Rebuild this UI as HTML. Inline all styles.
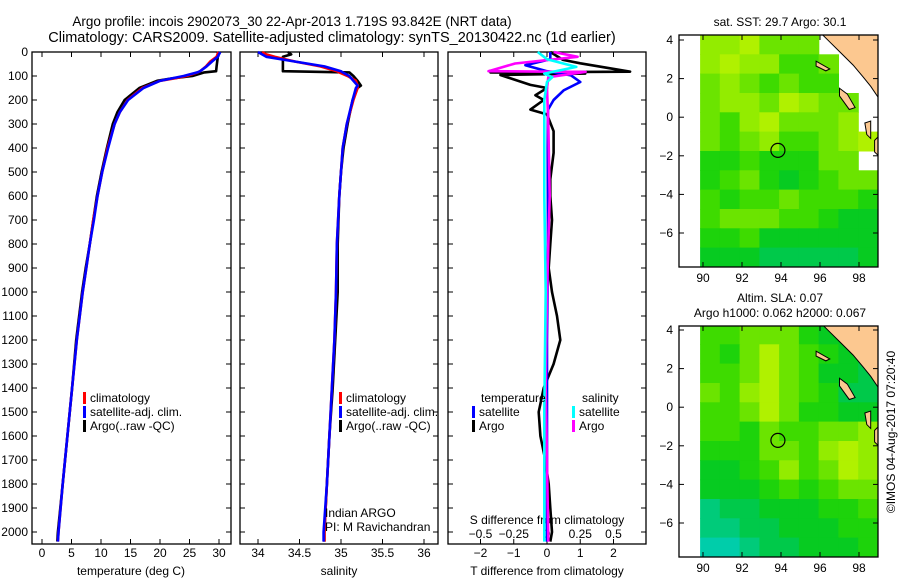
<!DOCTYPE html>
<html><head><meta charset="utf-8"><style>
html,body{margin:0;padding:0;background:#fff;}
svg{display:block;font-family:"Liberation Sans",sans-serif;}
text{fill:#000;}
</style></head><body>
<svg id="fig" width="900" height="580" xmlns="http://www.w3.org/2000/svg">
<text x="292" y="26" font-size="13.5" text-anchor="middle">Argo profile: incois 2902073_30 22-Apr-2013 1.719S 93.842E (NRT data)</text>
<text x="332" y="42" font-size="14.5" text-anchor="middle">Climatology: CARS2009. Satellite-adjusted climatology: synTS_20130422.nc (1d earlier)</text>
<g id="g"></g>
</svg>
<script>
// ---------- profile data ----------
const depthT=[0,20,40,60,80,85,100,110,120,150,200,250,300,400,500,600,700,800,900,1000,1200,1400,1600,1800,2000,2040];
const tempArgo=[29.8,29.8,29.7,29.6,29.5,27.5,25.5,22,19.5,16.5,14,12.8,12,11,10.1,9.3,8.7,8.1,7.4,6.8,5.8,5.1,4.3,3.5,2.7,2.6];
const tempClim=[29.9,29.6,28.5,27.8,26.8,26.4,24.5,22.5,20,17,14.5,13.2,12.3,11.1,10.2,9.4,8.7,8.1,7.5,6.9,5.9,5.1,4.3,3.5,2.8,2.7];
const tempSat=[30.2,29.8,28.8,27.9,26.8,26.3,24,22,20,17.2,14.6,13.2,12.3,11.2,10.2,9.4,8.8,8.1,7.5,6.9,5.9,5.1,4.3,3.5,2.8,2.7];
const depthS=[0,10,20,40,60,80,85,100,120,140,150,200,300,400,500,600,800,1000,1200,1400,1600,1800,2000,2040];
const salArgo=[34.36,34.4,34.3,34.3,34.3,34.3,35.1,35.15,35.2,35.24,35.2,35.14,35.08,35.03,35.0,34.98,34.96,34.96,34.93,34.9,34.86,34.83,34.8,34.8];
const salClim=[34.05,34.1,34.2,34.45,34.75,34.95,34.98,35.08,35.18,35.2,35.2,35.15,35.07,35.02,35.0,34.98,34.95,34.94,34.92,34.89,34.86,34.83,34.8,34.8];
const salSat=[34.0,34.05,34.1,34.45,34.8,35.0,35.02,35.1,35.15,35.2,35.18,35.14,35.07,35.02,35.0,34.98,34.95,34.94,34.92,34.89,34.86,34.83,34.79,34.79];
// ---------- difference data ----------
const depthDTA=[0,33,47,82,85,90,96,137,150,180,200,240,260,330,420,530,600,700,800,900,1000,1100,1200,1300,1400,1500,1600,1700,1800,1900,2000,2040];
const diffTArgo=[0.1,0.48,1.0,2.5,-1.7,1.15,-1.4,-0.5,0,-0.35,-0.1,-0.5,0,0.2,0.2,0.1,0.1,0.15,0.1,0.05,0.15,0.3,0.4,0.2,-0.1,-0.25,-0.2,-0.05,0.05,0.1,0.15,0.1];
const depthDTS=[0,30,55,80,97,125,160,200,240,400,800,1200,1600,2040];
const diffTSat=[0.1,0.1,-0.65,0,0.72,1.0,0.5,0.2,0.03,0.02,0.03,0.0,0.0,0.0];
const depthDSA=[0,20,48,80,83,105,150,300,600,1000,1400,1700,2040];
const diffSArgo=[0.05,0.23,-0.24,-0.44,0.29,0.01,0.0,0.01,0.02,0.0,-0.01,0.0,0.01];
const depthDSS=[0,30,62,90,105,125,200,600,1000,1500,2040];
const diffSSat=[-0.07,0,0.22,-0.02,0.04,0.0,-0.02,-0.02,-0.01,-0.02,-0.02];
// ---------- map data (rows lat 4 -> -7, cols lon 90 -> 98; -1 = no data) ----------
const sstGrid=[
[7,7,8,6,6,6,-1,-1,-1],
[7,8,7,7,5,5,6,-1,-1],
[6,7,6,5,6,5,5,-1,-1],
[6,7,7,6,8,7,6,6,-1],
[6,5,7,8,6,6,6,7,-1],
[6,5,6,7,5,5,6,7,8],
[4,4,5,4,4,4,6,6,-1],
[4,5,6,4,3,4,5,6,6],
[5,4,5,5,6,5,5,5,4],
[5,6,6,6,5,5,4,3,3],
[4,4,5,3,3,3,3,3,3],
[3,3,3,2,2,2,2,2,3]];
const slaGrid=[
[5,5,6,6,6,4,3,3,3],
[5,4,6,8,6,5,4,3,2],
[5,5,6,8,6,5,3,3,2],
[6,5,7,8,6,5,4,2,2],
[5,5,6,8,6,4,4,3,3],
[5,5,4,6,5,5,6,6,7],
[4,4,4,6,6,5,7,8,7],
[3,3,4,5,7,5,6,8,7],
[3,3,3,4,5,4,5,6,6],
[1,2,2,3,3,3,4,4,5],
[1,1,2,2,3,3,3,4,4],
[0,0,1,2,2,3,3,3,4]];
const depthTicks=[0,100,200,300,400,500,600,700,800,900,1000,1100,1200,1300,1400,1500,1600,1700,1800,1900,2000];
const tempTicks=[0,5,10,15,20,25,30];
const salTicks=[34,34.5,35,35.5,36];
const dtTicks=[-2,-1,0,1,2];
const dsTicks=[-0.5,-0.25,0,0.25,0.5];
const dsLabels=['\u22120.5','\u22120.25','0','0.25','0.5'];
const lonTicks=[90,92,94,96,98];
const latTicks=[4,2,0,-2,-4,-6];
const argoLon=93.842, argoLat=-1.719;

// ---------- axis functions ----------
const yD=d=>52+d*0.24;
const xT=v=>42+v*5.9;
const xS=v=>258+(v-34)*83;
const xDT=v=>547+v*33.25;
const xDS=v=>547+v*133;
const lonX=l=>703+(l-90)*19.5;
const latY1=l=>40+(4-l)*19.3;
const latY2=l=>330+(4-l)*19.3;

const NS='http://www.w3.org/2000/svg';
const G=document.getElementById('g');
function mk(tag,attrs,parent){const e=document.createElementNS(NS,tag);for(const k in attrs)e.setAttribute(k,attrs[k]);(parent||G).appendChild(e);return e;}
function txt(s,x,y,anchor,size,parent){const e=mk('text',{x:x,y:y,'text-anchor':anchor||'start','font-size':size||12},parent);e.textContent=s;return e;}

const panels=[[32,231],[240,438],[448,646]];
const pTop=52,pBot=544;
panels.forEach((p,i)=>{
  const r=mk('rect',{x:p[0],y:pTop,width:p[1]-p[0],height:pBot-pTop,fill:'none',stroke:'#000','stroke-width':1.3});
  
  
  depthTicks.forEach(d=>{
    mk('line',{x1:p[0],x2:p[0]+5,y1:yD(d),y2:yD(d),stroke:'#000'});
    mk('line',{x1:p[1]-5,x2:p[1],y1:yD(d),y2:yD(d),stroke:'#000'});
  });
});
depthTicks.forEach(d=>{
  const e=txt(String(d),28,yD(d)+4,'end',12);
  
  
});
tempTicks.forEach(v=>{
  mk('line',{x1:xT(v),x2:xT(v),y1:pBot,y2:pBot-5,stroke:'#000'});
  mk('line',{x1:xT(v),x2:xT(v),y1:pTop,y2:pTop+5,stroke:'#000'});
  const e=txt(String(v),xT(v),557,'middle',12);
  
  
});
salTicks.forEach(v=>{
  mk('line',{x1:xS(v),x2:xS(v),y1:pBot,y2:pBot-5,stroke:'#000'});
  mk('line',{x1:xS(v),x2:xS(v),y1:pTop,y2:pTop+5,stroke:'#000'});
  const e=txt(String(v),xS(v),557,'middle',12);
  
  
});
dtTicks.forEach(v=>{
  mk('line',{x1:xDT(v),x2:xDT(v),y1:pBot,y2:pBot-5,stroke:'#000'});
  mk('line',{x1:xDT(v),x2:xDT(v),y1:pTop,y2:pTop+5,stroke:'#000'});
  const e=txt(String(v).replace('-','\u2212'),xDT(v),557,'middle',12);
  
  
});
dsTicks.forEach((v,i)=>{
  const e=txt(dsLabels[i],xDS(v),538,'middle',12);
  
  
});
let lab;
lab=txt('temperature (deg C)',131,575,'middle',12);
lab=txt('salinity',339,575,'middle',12);
lab=txt('T difference from climatology',547,575,'middle',12);
lab=txt('S difference from climatology',547,524,'middle',12);

function line(ds,vs,fx,color,name){
  const pts=ds.map((d,i)=>fx(vs[i]).toFixed(1)+','+yD(d).toFixed(1)).join(' ');
  const p=mk('polyline',{points:pts,fill:'none',stroke:color,'stroke-width':2.6,'stroke-linejoin':'round'});
  
  
}
line(depthT,tempArgo,xT,'#000','temp-argo-line');
line(depthT,tempClim,xT,'#f00','temp-climatology-line');
line(depthT,tempSat,xT,'#00f','temp-satellite-line');
line(depthS,salArgo,xS,'#000','salinity-argo-line');
line(depthS,salClim,xS,'#f00','salinity-climatology-line');
line(depthS,salSat,xS,'#00f','salinity-satellite-line');
line(depthDTA,diffTArgo,xDT,'#000','t-diff-argo-line');
line(depthDTS,diffTSat,xDT,'#00f','t-diff-satellite-line');
line(depthDSA,diffSArgo,xDS,'#f0f','s-diff-argo-line');
line(depthDSS,diffSSat,xDS,'#0ff','s-diff-satellite-line');

function legItem(x,y,color,label,name){
  mk('rect',{x:x,y:y-10,width:3,height:12,fill:color});
  const e=txt(label,x+7,y,'start',12);
  
  
}
legItem(83,402,'#f00','climatology','legend-climatology');
legItem(83,416,'#00f','satellite-adj. clim.','legend-satellite');
legItem(83,430,'#000','Argo(..raw -QC)','legend-argo');
legItem(339,402,'#f00','climatology','legend-climatology-2');
legItem(339,416,'#00f','satellite-adj. clim.','legend-satellite-2');
legItem(339,430,'#000','Argo(..raw -QC)','legend-argo-2');
lab=txt('temperature',481,402,'start',12);
lab=txt('salinity',582,402,'start',12);
legItem(472,416,'#00f','satellite','legend-t-satellite');
legItem(472,430,'#000','Argo','legend-t-argo');
legItem(572,416,'#0ff','satellite','legend-s-satellite');
legItem(572,430,'#f0f','Argo','legend-s-argo');
lab=txt('Indian ARGO',325,517,'start',12);
lab=txt('PI: M Ravichandran',325,531,'start',12);

// ---------- maps ----------
function col(d){
  const v=d/9;
  const stops=[[0,[0,205,170]],[0.3,[0,200,40]],[0.5,[40,215,0]],[0.75,[140,235,0]],[1,[205,245,0]]];
  for(let i=1;i<stops.length;i++){if(v<=stops[i][0]){const a=stops[i-1],b=stops[i];const f=(v-a[0])/(b[0]-a[0]);
    return 'rgb('+a[1].map((c,k)=>Math.round(c+(b[1][k]-c)*f)).join(',')+')';}}
  return 'rgb(205,245,0)';
}
function drawMap(grid,latY,yTop,yBot,name){
  const g=mk('g',{});
  
  
  const cid='clip'+name;
  const cp=mk('clipPath',{id:cid},g);mk('rect',{x:679,y:yTop,width:199,height:yBot-yTop},cp);
  const inner=mk('g',{'clip-path':'url(#'+cid+')'},g);
  const lon0=89.85,dl=(98.97-89.85)/9,lat0=4.26,dla=(4.26+7.76)/12;
  grid.forEach((row,r)=>row.forEach((d,c)=>{
    if(d<0)return;
    const x1=lonX(lon0+c*dl),x2=lonX(lon0+(c+1)*dl),y1=latY(lat0-r*dla),y2=latY(lat0-(r+1)*dla);
    const cell=mk('rect',{x:x1.toFixed(1),y:y1.toFixed(1),width:(x2-x1+0.6).toFixed(1),height:(y2-y1+0.6).toFixed(1),fill:col(d)},inner);
    
    
  }));
  const land=[[96.1,4.3],[96.5,3.9],[97.1,3.3],[97.7,2.7],[98.2,2.1],[98.6,1.6],[99,1.0],[99,4.3]];
  const lp=mk('polygon',{points:land.map(p=>lonX(p[0])+','+latY(p[1])).join(' '),fill:'#fcc890',stroke:'#000','stroke-width':1},inner);
  
  const isl=[[[95.8,2.9],[96.5,2.5],[96.3,2.4],[95.8,2.65]],[[97.0,1.5],[97.4,1.2],[97.8,0.5],[97.5,0.4],[97.0,1.1]],[[98.3,-0.3],[98.6,-0.2],[98.6,-1.1],[98.4,-0.9]],[[98.8,-1.2],[99,-1.0],[99,-2.0],[98.8,-1.8]]];
  isl.forEach(pl=>{
    const ip=mk('polygon',{points:pl.map(p=>lonX(p[0])+','+latY(p[1])).join(' '),fill:'#fcc890',stroke:'#000','stroke-width':1},inner);
    
  });
  const c=mk('circle',{cx:lonX(argoLon),cy:latY(argoLat),r:7,fill:'none',stroke:'#000','stroke-width':1.2},g);
  
  mk('rect',{x:679,y:yTop,width:199,height:yBot-yTop,fill:'none',stroke:'#000','stroke-width':1.3},g);
  latTicks.forEach(l=>{
    mk('line',{x1:679,x2:684,y1:latY(l),y2:latY(l),stroke:'#000'},g);
    mk('line',{x1:873,x2:878,y1:latY(l),y2:latY(l),stroke:'#000'},g);
    const tl=txt(String(l).replace('-','\u2212'),673,latY(l)+4,'end',12,g);
    
  });
  lonTicks.forEach(l=>{
    mk('line',{x1:lonX(l),x2:lonX(l),y1:yBot,y2:yBot-5,stroke:'#000'},g);
    mk('line',{x1:lonX(l),x2:lonX(l),y1:yTop,y2:yTop+5,stroke:'#000'},g);
    const tl=txt(String(l),lonX(l),yBot+15,'middle',12,g);
    
  });
}
drawMap(sstGrid,latY1,35,267,'sst-map');
drawMap(slaGrid,latY2,326,557,'sla-map');
lab=txt('sat. SST: 29.7 Argo: 30.1',780,26,'middle',12);
lab=txt('Altim. SLA: 0.07',780,302,'middle',12);
lab=txt('Argo h1000: 0.062 h2000: 0.067',780,317,'middle',12);
lab=txt('\u00a9IMOS 04-Aug-2017 07:20:40',0,0,'middle',12);
lab.setAttribute('transform','translate(895,432) rotate(-90)');

</script>
</body></html>
